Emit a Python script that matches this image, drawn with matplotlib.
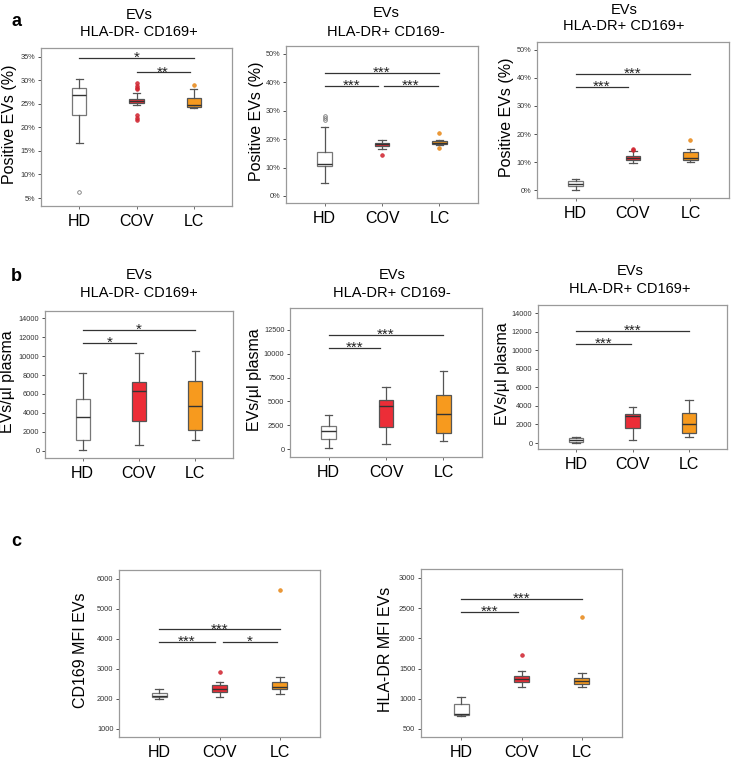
import matplotlib
matplotlib.use("Agg")
import matplotlib.pyplot as plt
from matplotlib.ticker import FuncFormatter

plt.rcParams['font.family'] = ['Liberation Sans', 'DejaVu Sans']

W, H = 731, 763
groups = ["HD", "COV", "LC"]

# ---------------- data ----------------
# a: Positive EVs (%)
a1_low = [16.7, 24.7, 24.1]
a1_q1 = [22.7, 25.1, 24.4]
a1_med = [27.0, 25.6, 24.7]
a1_q3 = [28.4, 26.1, 26.2]
a1_high = [30.3, 27.3, 28.1]
a1_fliers = [[6.35], [29.5, 28.8, 28.4, 28.1, 22.65, 22.1, 21.6], [29.0]]

a2_low = [4.4, 16.4, 17.8]
a2_q1 = [10.5, 17.6, 18.4]
a2_med = [11.4, 18.2, 18.8]
a2_q3 = [15.6, 18.8, 19.4]
a2_high = [24.1, 19.8, 19.8]
a2_fliers = [[26.6, 27.4, 28.1], [14.4], [16.8, 22.0]]

a3_low = [0.2, 9.5, 10.0]
a3_q1 = [1.4, 10.6, 10.6]
a3_med = [2.1, 11.3, 11.3]
a3_q3 = [3.2, 12.2, 13.7]
a3_high = [4.1, 13.9, 14.7]
a3_fliers = [[], [14.8, 14.2], [17.8]]

# b: EVs/µl plasma
b1_low = [70, 670, 1120]
b1_q1 = [1120, 3190, 2180]
b1_med = [3580, 6280, 4700]
b1_q3 = [5510, 7300, 7400]
b1_high = [8250, 10350, 10490]
b1_fliers = [[], [], []]

b2_low = [100, 520, 840]
b2_q1 = [1080, 2340, 1680]
b2_med = [1920, 4500, 3670]
b2_q3 = [2440, 5170, 5690]
b2_high = [3530, 6490, 8240]
b2_fliers = [[], [], []]

b3_low = [0, 360, 610]
b3_q1 = [110, 1580, 1110]
b3_med = [290, 2870, 2080]
b3_q3 = [500, 3090, 3230]
b3_high = [650, 3910, 4600]
b3_fliers = [[], [], []]

# c: MFI
c1_low = [2000, 2060, 2160]
c1_q1 = [2060, 2220, 2320]
c1_med = [2110, 2340, 2410]
c1_q3 = [2190, 2470, 2550]
c1_high = [2340, 2570, 2740]
c1_fliers = [[], [2890], [5630]]

c2_low = [720, 1200, 1195]
c2_q1 = [735, 1270, 1250]
c2_med = [750, 1335, 1300]
c2_q3 = [910, 1375, 1350]
c2_high = [1030, 1460, 1420]
c2_fliers = [[], [1720], [2350]]

# significance brackets: (x start, x end, y, label)
a1_sig = [(1, 3, 34.85, "*"), (2, 2.93, 31.7, "**")]
a2_sig = [(1, 3, 43.3, "***"), (1, 1.93, 38.8, "***"), (2.03, 2.97, 38.8, "***")]
a3_sig = [(1, 3, 41.4, "***"), (1, 1.92, 36.8, "***")]
b1_sig = [(1, 3, 12700, "*"), (1, 1.95, 11330, "*")]
b2_sig = [(1, 3, 11980, "***"), (1, 1.9, 10650, "***")]
b3_sig = [(1, 3, 12030, "***"), (1, 1.97, 10660, "***")]
c1_sig = [(1, 3, 4320, "***"), (1, 1.92, 3890, "***"), (2.05, 2.95, 3890, "*")]
c2_sig = [(1, 3, 2650, "***"), (1, 1.95, 2435, "***")]

# ---------------- styling ----------------
face = ["white", "#ec2d37", "#f79a1e"]
edge = ["#777777", "#555555", "#555555"]
flier_face = ["none", "#d02530", "#e8891a"]
flier_edge = ["#777777", "#d02530", "#e8891a"]

fig = plt.figure(figsize=(W / 100, H / 100), dpi=100)


def pct(v, _):
    return f"{v:.0f}%"


def panel(rect, low, q1, med, q3, high, fliers, ylim, yticks, ylabel, ylab_px,
          sig, percent=False):
    l, t, r, b = rect
    ax = fig.add_axes([l / W, 1 - b / H, (r - l) / W, (b - t) / H])
    stats = [dict(whislo=low[i], q1=q1[i], med=med[i], q3=q3[i],
                  whishi=high[i], fliers=fliers[i], label=groups[i])
             for i in range(3)]
    art = ax.bxp(stats, positions=[1, 2, 3], widths=0.25, capwidths=0.13,
                 patch_artist=True, showfliers=True,
                 medianprops=dict(color="#333333", linewidth=1.0),
                 whiskerprops=dict(color="#555555", linewidth=0.9),
                 capprops=dict(color="#555555", linewidth=0.9))
    for i, box in enumerate(art["boxes"]):
        box.set_facecolor(face[i])
        box.set_edgecolor(edge[i])
        box.set_linewidth(0.9)
    for i, fl in enumerate(art["fliers"]):
        fl.set_marker("o")
        fl.set_markersize(2.6)
        fl.set_markerfacecolor(flier_face[i])
        fl.set_markeredgecolor(flier_edge[i])
        fl.set_markeredgewidth(0.6)
        fl.set_alpha(0.85 if i else 1.0)
    ax.set_xlim(0.33, 3.67)
    ax.set_ylim(*ylim)
    ax.set_yticks(yticks)
    if percent:
        ax.yaxis.set_major_formatter(FuncFormatter(pct))
    ax.set_xticks([1, 2, 3])
    ax.set_xticklabels(groups, fontsize=11.5)
    ax.tick_params(axis="y", labelsize=5.3, length=2.5, width=0.6,
                   colors="#333333", pad=1.5)
    ax.tick_params(axis="x", length=2.5, width=0.6, colors="#555555",
                   labelcolor="black", pad=3)
    for s in ax.spines.values():
        s.set_color("#9a9a9a")
        s.set_linewidth(0.9)
    ax.set_ylabel(ylabel, fontsize=11.5, va="center")
    ax.yaxis.set_label_coords((ylab_px - l) / (r - l), 0.52)
    for x1, x2, y, lab in sig:
        ax.plot([x1, x2], [y, y], color="#333333", linewidth=0.9)
        ax.annotate(lab, xy=((x1 + x2) / 2, y), xytext=(0, -2.8),
                    textcoords="offset points", ha="center", va="baseline",
                    fontsize=11, color="#222222")
    return ax


pe = "Positive EVs (%)"
ev = "EVs/µl plasma"

panel((41, 48, 232, 206), a1_low, a1_q1, a1_med, a1_q3, a1_high, a1_fliers,
      (3.3, 36.9), [5, 10, 15, 20, 25, 30, 35], pe, 10, a1_sig, True)
panel((286, 46, 478, 203), a2_low, a2_q1, a2_med, a2_q3, a2_high, a2_fliers,
      (-2.5, 52.8), [0, 10, 20, 30, 40, 50], pe, 256, a2_sig, True)
panel((537, 42, 729, 198), a3_low, a3_q1, a3_med, a3_q3, a3_high, a3_fliers,
      (-2.8, 52.8), [0, 10, 20, 30, 40, 50], pe, 507, a3_sig, True)

panel((45, 311, 233, 458), b1_low, b1_q1, b1_med, b1_q3, b1_high, b1_fliers,
      (-737, 14737), list(range(0, 14001, 2000)), ev, 8, b1_sig)
panel((290, 308, 482, 457), b2_low, b2_q1, b2_med, b2_q3, b2_high, b2_fliers,
      (-840, 14810), list(range(0, 12501, 2500)), ev, 254, b2_sig)
panel((538, 305, 727, 449), b3_low, b3_q1, b3_med, b3_q3, b3_high, b3_fliers,
      (-646, 14862), list(range(0, 14001, 2000)), ev, 502, b3_sig)

panel((119, 570, 320, 737), c1_low, c1_q1, c1_med, c1_q3, c1_high, c1_fliers,
      (733, 6300), [1000, 2000, 3000, 4000, 5000, 6000], "CD169 MFI EVs",
      80, c1_sig)
panel((421, 569, 622, 737), c2_low, c2_q1, c2_med, c2_q3, c2_high, c2_fliers,
      (367, 3149), [500, 1000, 1500, 2000, 2500, 3000], "HLA-DR MFI EVs",
      385, c2_sig)

# titles
titles = [
    (139, 15, 32, "EVs", "HLA-DR- CD169+"),
    (386, 13, 32, "EVs", "HLA-DR+ CD169-"),
    (624, 10, 26, "EVs", "HLA-DR+ CD169+"),
    (139, 275, 293, "EVs", "HLA-DR- CD169+"),
    (392, 275, 293, "EVs", "HLA-DR+ CD169-"),
    (630, 271, 289, "EVs", "HLA-DR+ CD169+"),
]
for x, y1, y2, l1, l2 in titles:
    fig.text(x / W, 1 - y1 / H, l1, ha="center", va="center", fontsize=10.5)
    fig.text(x / W, 1 - y2 / H, l2, ha="center", va="center", fontsize=10.5)

for x, y, lab in [(16, 22, "a"), (16, 277, "b"), (16, 542, "c")]:
    fig.text(x / W, 1 - y / H, lab, ha="center", va="center", fontsize=13,
             fontweight="bold")

fig.savefig("out.png", dpi=100)
